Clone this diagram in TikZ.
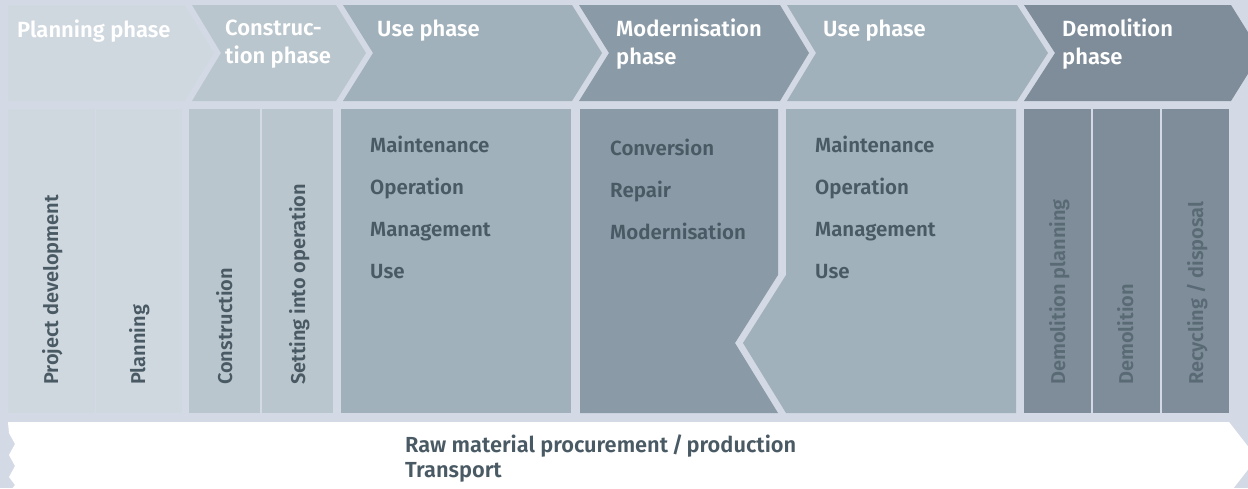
\documentclass[tikz,border=0pt]{standalone}
\usepackage{fontspec}
\setmainfont{Fira Sans}[BoldFont={Fira Sans SemiBold}]
\definecolor{bg}{HTML}{D3DAE6}
\definecolor{cPlan}{HTML}{D0D8DF}
\definecolor{cCons}{HTML}{BAC6CD}
\definecolor{cUse}{HTML}{A1B1BB}
\definecolor{cMod}{HTML}{8A9AA6}
\definecolor{cDem}{HTML}{7E8D99}
\definecolor{txt}{HTML}{4A5A64}
\definecolor{txtdem}{HTML}{5A6A75}
\begin{document}
\begin{tikzpicture}[x=1pt,y=-1pt,
  hdr/.style={text=white, font=\bfseries\fontsize{22}{28}\selectfont, inner sep=0pt, align=left, anchor=north west},
  lst/.style={text=txt, font=\bfseries\fontsize{20.5}{42}\selectfont, inner sep=0pt, align=left, anchor=north west},
  vlab/.style={text=txt, font=\bfseries\fontsize{20}{22}\selectfont, inner sep=0pt, rotate=90, anchor=base west},
  vdem/.style={vlab, text=txtdem},
  band/.style={text=txt, font=\bfseries\fontsize{21.8}{25}\selectfont, inner sep=0pt, align=left, anchor=north west}]
\useasboundingbox (0,0) rectangle (1248,488);
\clip (0,0) rectangle (1248,488);
\fill[bg] (0,0) rectangle (1248,488);
% top row chevrons
\fill[cPlan] (8,5) -- (185,5) -- (214,53) -- (185,101) -- (8,101) -- cycle;
\fill[cCons] (192,5) -- (336,5) -- (366,53) -- (336,101) -- (192,101) -- (221,53) -- cycle;
\fill[cUse] (343,5) -- (572,5) -- (602,53) -- (572,101) -- (343,101) -- (373,53) -- cycle;
\fill[cMod] (579,5) -- (780,5) -- (809,53) -- (780,101) -- (579,101) -- (609,53) -- cycle;
\fill[cUse] (787,5) -- (1017,5) -- (1048,53) -- (1017,101) -- (787,101) -- (816,53) -- cycle;
\fill[cDem] (1024,5) -- (1231,5) -- (1261,53) -- (1231,101) -- (1024,101) -- (1055,53) -- cycle;
% header texts
\node[hdr] (hplan) at (17,19.5) {Planning phase};
\node[hdr] (hcons) at (225,19.5) {Construc-\\tion phase};
\node[hdr] (huse1) at (377,19.5) {Use phase};
\node[hdr] (hmod) at (616,19) {Modernisation\\phase};
\node[hdr] (huse2) at (823,19.5) {Use phase};
\node[hdr] (hdem) at (1062,19) {Demolition\\phase};
% middle row
\fill[cPlan] (8,109) rectangle (94.5,413);
\fill[cPlan] (95.5,109) rectangle (182,413);
\fill[cCons] (189,109) rectangle (260,413);
\fill[cCons] (262,109) rectangle (333,413);
\fill[cUse] (341,109) rectangle (571,413);
\fill[cMod] (580,109) -- (778,109) -- (778,275) -- (735,343) -- (778,413) -- (580,413) -- cycle;
\fill[cUse] (786,109) -- (1016,109) -- (1016,413) -- (786,413) -- (743,343) -- (786,275) -- cycle;
\fill[cDem] (1024,109) rectangle (1091,413);
\fill[cDem] (1093,109) rectangle (1160,413);
\fill[cDem] (1162,109) rectangle (1229,413);
% vertical labels
\node[vlab] (pdev) at (58,385) {Project development};
\node[vlab] (plan) at (145,385) {Planning};
\node[vlab] (cons) at (232,385) {Construction};
\node[vlab] (sio) at (305,385) {Setting into operation};
\node[vdem] (dplan) at (1065,385) {Demolition planning};
\node[vdem] (demo) at (1133,385) {Demolition};
\node[vdem] (recy) at (1203,385) {Recycling / disposal};
% lists
\node[lst] (luse1) at (370,135.5) {Maintenance\\Operation\\Management\\Use};
\node[lst] (lmod) at (610,138.5) {Conversion\\Repair\\Modernisation};
\node[lst] (luse2) at (815,135.5) {Maintenance\\Operation\\Management\\Use};
% bottom band
\fill[white] (8,422) -- (1229,422) -- (1257,458) -- (1229,494) -- (8,494)
  -- (15,485) -- (9,477) -- (15,466) -- (9,455) -- (15,444) -- (9,433) -- cycle;
\node[band] (raw) at (405,435) {Raw material procurement\,/\,production\\Transport};
\end{tikzpicture}
\end{document}
